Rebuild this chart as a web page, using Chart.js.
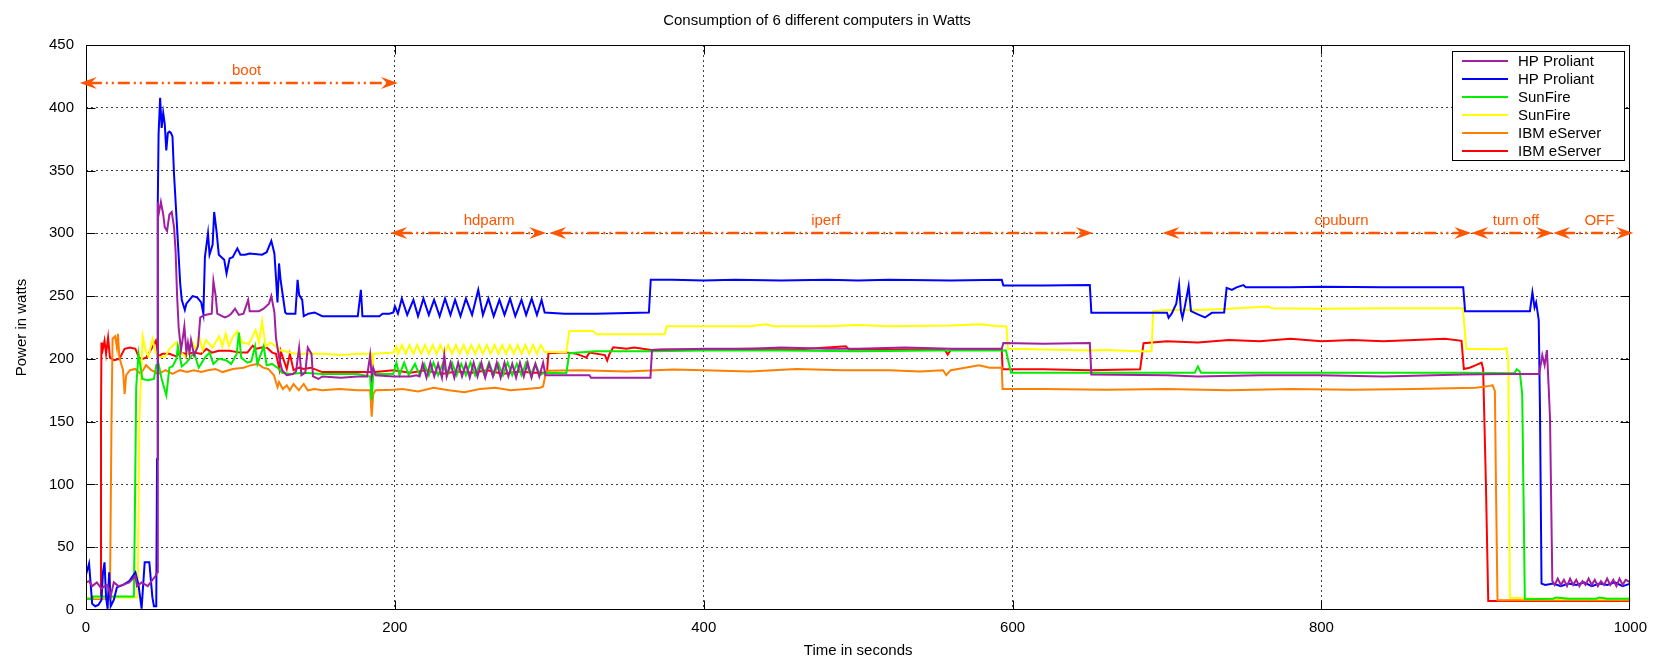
<!DOCTYPE html>
<html>
<head>
<meta charset="utf-8">
<script src="https://cdn.jsdelivr.net/npm/chart.js@4"></script>
<style>
  html, body { margin: 0; padding: 0; background: #fff; }
</style>
</head>
<body>
<canvas id="power-chart" width="1656" height="660"></canvas>
<script>
// power readings, [seconds, watts]
const hpProliantA = [
  [0,22],[2,23],[4,19],[7,22],[10,17],[12,19],[14,20],[16,11],[18,22],[21,19],[24,20],[28,22],[32,27],[33,19],[36,22],[40,19],[43,24],[45,27],[46,30],
  [46.5,325],[47,315],[48.5,325],[50,315],[51,305],[52.5,302],[54,315],[55.5,317],[57,305],[58,286],[59,250],[60,225],[61.5,207],[62.5,215],[63.7,226],[65,205],[66,213],[67,205],[68,215],[70,203],[72.5,210],[74,233],[77,235],[81.4,236],[82.5,262],[84,250],[85,236],[89.8,233],[92,234],[94,236],[96.5,240],[99,235],[102,236],[105,247],[106,238],[112,238],[115,240],[118.5,244],[120,250],[122,237],[123,217],[125,201],[127,191],[130,187],[134,188],[136,190],[138,209],[139.5,187],[142,189],[143.6,209],[146,204],[147,186],[150.5,184],[153,186],[165,185],[176,186],[182,186],[184,203],[185,186],[186,193],[187.5,187],[199,186],[210,186],[214,187],
  [216,186],[218,196],[220.5,185],[223,197],[225.5,186],[228,196],[230.5,185],[232,203],[233.5,186],[236,197],[238.5,185],[241,197],[243.5,186],[246,196],[248.5,185],[251,197],[253.5,186],[256,197],[258.5,185],[261,196],[263.5,186],[266,197],[268.5,185],[271,197],[273.5,186],[276,196],[278.5,185],[281,197],[283.5,186],[286,197],[288.5,185],[291,196],[293.5,186],[296,197],[297.5,187],
  [310,187],[326,187],[327,185],[365.5,185],[366.5,207],[400,208],[430,208],[450,209],[480,208],[500,208],[530,209],[560,208],[593,208],[594,212.6],[620,212],[650,212.6],[651,187.6],[700,187],[720,186],[760,187],[800,187],[840,186],[892,187.6],[920,188],[941,188],[943,203],[944.5,195],[946,207],[947,181],[948,153],[949.5,23],
  [951,20],[953,25],[955,20],[957,24],[959,19],[961,25],[963,20],[965,24],[967,19],[969,23],[971,20],[973,25],[975,20],[977,24],[979,19],[981,23],[983,20],[985,25],[987,20],[989,24],[991,19],[993,25],[995,20],[997,24],[1000,22]
];
const hpProliantB = [
  [0,28],[2,37],[4,5],[6,3],[8,4],[10,8],[11,30],[12,38],[13,10],[14,1],[15,30],[16,3],[18,8],[20,18],[24,20],[28,23],[32,30],[34,20],[36,1],[38,38],[41,38],[43,10],[44,3],[45.5,3],
  [46,120],[46.5,326],[47,379],[48,408],[49,384],[50,396],[51,387],[52,366],[53,380],[54,381],[55,380],[56,377],[57,347],[58.5,315],[61,260],[62,247],[64,239],[65,244],[69,250],[72,249],[74.6,245],[76,236],[77,281],[79,300],[80,283],[82,291],[83,317],[84.5,302],[86,283],[89.5,279],[91,268],[93,280],[95,281],[98,288],[100,283],[103,283],[106,284],[114,283],[117,285],[120,294],[122,284],[123,265],[124,245],[125,276],[126,263],[127.5,250],[129,237],[130,236],[135.6,236],[137,263],[138,251],[140,247],[141,234],[144,236],[148,237],[153,234],[176,234],[178,255],[179,234],[190,234],[192,236],[196.5,236],[199,237],[200,242],
  [202,236],[204.5,248],[208,235],[212,247],[215,234],[218.5,248],[222,235],[225.4,247],[229,234],[232.5,248],[236,235],[239,247],[242.5,234],[246,248],[250,235],[254,255],[257,235],[260.6,248],[264,234],[267.7,247],[271,235],[274.6,248],[278,234],[282,247],[285,235],[288.6,248],[292,235],[295,247],[297,237],
  [310,236],[330,236],[364.5,237],[365.7,263],[380,263],[400,262.5],[420,263],[450,262.5],[480,263],[500,262.5],[520,263],[560,262.5],[593,263],[594,258.5],[620,258.5],[650,258.8],[651,236.7],[700,236.7],[701,232.7],[703,236],[706,244],[707.8,259],[709,238],[710,232.7],[711.6,242],[714,258],[715.5,238],[720,235.4],[724.6,233],[729,236.7],[737,237],[738.6,256.6],[742,255],[745,257],[749.4,258.8],[751,257],[780,257],[800,257.5],[840,257],[891.8,257],[893,238],[920,238],[935,238],[936.6,253],[938,241],[939,245],[940.7,231],[941.5,160],[942.5,21],
  [945,20],[950,21],[955,19],[960,21],[965,20],[970,22],[975,19],[980,21],[985,20],[990,22],[995,19],[1000,21]
];
const sunFireA = [
  [0,9],[4,9],[4.5,10.8],[31,10.8],[31.5,60],[32.5,177],[34,204],[36.5,184],[40,183],[44,184],[45.5,195],[47,196],[49,184],[52,171],[54,193],[56,194],[58.5,200],[59.5,210],[62,194],[65,197],[70,205],[73,193],[77,201],[80,205],[82.5,196],[86,200],[90.7,199],[94,196],[97.6,204],[99,221],[100.5,201],[104.5,197],[107,198],[109.5,210],[111,196],[115,210],[117,195],[120.5,196],[124,193],[127,189],[132,188],[141,189],[153,188],[176,188],[184,186],[185,167],[186,188],[199,188],
  [201,197],[203,187],[206,197],[209,187],[213,196],[216,187],[219,196],[222,187],[225,197],[228,187],[231,196],[234,187],[237,197],[240,187],[243,196],[246,187],[249,197],[252,187],[255,196],[258,187],[261,197],[264,187],[267,196],[270,187],[273,197],[276,187],[279,196],[282,187],[285,197],[288,187],[291,196],[294,187],[297,189],
  [311,188.5],[313,204.5],[330,206],[366,206],[400,206.6],[450,206.6],[500,206],[550,206.6],[595.7,206.6],[599,189],[650,189],[700,189],[718,189],[720,194],[722,189],[760,189],[800,189],[850,189],[892,189],[925,188.5],[926.5,191.7],[928.4,190],[930,172],[931.7,8.5],[950,9],[952,10],[960,9],[978,9],[980,10],[985,9],[1000,9]
];
const sunFireB = [
  [0,10],[33.5,10],[34.5,150],[36.7,218],[38.8,206],[40.5,202],[43.1,216],[45,205],[47.4,201],[51.5,202],[54,208],[58.2,213],[60.3,207],[64.7,201],[69,213],[71,207],[73.3,218],[75.5,207],[77.6,215],[81.9,209],[86.2,218],[88.3,210],[90.5,220],[92.6,210],[94.8,217],[98,222],[101.2,213],[105.5,212],[109.8,223],[112,213],[114,230],[116.3,210],[119.5,213],[122.8,210],[125,207],[130.4,205.7],[135.8,204],[153,204],[166,203],[176,204],[185,204],[185.4,180],[186,204],[199,205],[201,210],
  [202,204],[204.5,211],[207,204],[209.5,211],[212,204],[214.5,211],[217,204],[219.5,211],[222,204],[224.5,211],[227,204],[229.5,211],[232,204],[234.5,211],[237,204],[239.5,211],[242,204],[244.5,211],[247,204],[249.5,211],[252,204],[254.5,211],[257,204],[259.5,211],[262,204],[264.5,211],[267,204],[269.5,211],[272,204],[274.5,211],[277,204],[279.5,211],[282,204],[284.5,211],[287,204],[289.5,211],[292,204],[294.5,211],[297,205.5],
  [311,205.5],[313,222.3],[328.4,222.3],[330.6,219.6],[374.8,219.6],[376,226],[400,226],[430,226],[440,227.5],[445,226],[480,226],[500,227],[520,226],[560,226.5],[580,227.5],[590,226],[596,226],[597,208],[620,207.5],[650,206.6],[660,207],[681.5,206],[690,206],[691,238],[700,239],[720,239],[740,240],[765.5,241.7],[768,240.4],[800,240],[840,240.4],[880,240.4],[891.6,240.4],[893.8,208],[915.5,207.7],[919.8,208.5],[921,198],[922,9.8],[940,9],[1000,9]
];
const ibmServerA = [
  [0,9],[15.5,9],[16.5,150],[17.2,216],[18.9,218],[20,209],[20.7,220],[21.6,201],[24,191],[25,172],[26,187],[28.5,191],[32,192],[35.4,188],[38.9,195],[42.3,191],[47,188],[51.5,191],[56,188],[60.8,191],[65.4,189.5],[70,191],[74.6,189.5],[79,191],[83.8,192],[88.4,189.5],[95,192],[102,193],[106.8,195],[111.3,196],[114.7,193],[118,192],[121.7,187],[124,177.6],[125,181.5],[127.5,176],[130,179],[132,175],[134.4,180],[137.8,175],[141,180],[143.6,175],[148,176],[153,175],[164,176],[176,175],[184,175],[185,154],[186,172],[187.5,175],[199,175.5],
  [205,176],[215,174],[225,177],[235,175],[245,173.5],[255,176],[265,177],[275,175],[285,176],[294,177],[296,178],[298,190.5],
  [320,191],[350,190],[380,191.5],[400,191],[430,190],[460,192],[490,191],[520,191],[540,190],[555,191],[557,187],[560,191],[578.4,195],[585,193],[593,193],[593.5,176],[620,176],[660,175.5],[700,176],[740,175],[780,176],[820,175.5],[860,176],[900,177],[909,178.5],[910.8,179],[912.3,174.5],[913,100],[914,7.7],[1000,7.7]
];
const ibmServerB = [
  [0,9],[9.3,9],[9.7,150],[10,213],[10.3,204],[12,214.5],[13,204],[14.3,217],[15.5,201],[18.2,199],[21.6,200],[25,208],[28.5,209],[32,208],[34.3,201],[36.6,200],[39,201],[42.4,208],[45.2,214.5],[47,202],[49.4,204],[54,204],[58.5,202],[60.8,205],[65.4,204],[70,205],[74.6,204],[78,208],[81.5,205],[86,206.5],[93,206.5],[99.8,205],[104.5,205],[108,210.5],[110,208],[113.8,209],[117,209],[120.6,205],[123,204],[125.2,192],[126,206.5],[127.5,201],[130,192],[132,204],[134.4,191],[138,193],[141,192],[145.6,193],[153,189.5],[164,189.5],[176,189.5],[187,189.5],[199,191],
  [210,189],[220,191],[230,188],[240,190],[250,189],[260,191],[270,188],[280,190],[290,189],[298.5,189],[299.4,204.4],
  [310,205.3],[317.7,204],[324,201],[326,205],[336,203],[337.5,198.7],[339,204],[341.4,209.3],[350,208],[355,209],[366,207],[372,207.5],[400,207.5],[430,208],[460,207.5],[492,210],[494,207.5],[530,207.5],[556,207.5],[558,203.5],[560,207.5],[593,207.5],[593.5,191.8],[620,191.8],[650,191],[682.6,191.8],[684.8,212.5],[700,214],[720,213],[740,215],[760,214],[780,216],[800,214],[820,215],[840,214],[860,215],[880,216],[890.7,214.4],[892.2,192],[896,193],[900,195],[903.7,197],[904.7,192],[906.5,100],[908,7.2],[1000,7.2]
];

const seriesNames = ['HP Proliant', 'HP Proliant', 'SunFire', 'SunFire', 'IBM eServer', 'IBM eServer'];
const seriesData = [hpProliantA, hpProliantB, sunFireA, sunFireB, ibmServerA, ibmServerB];
const seriesColors = ['#a020a0', '#0000ff', '#00ee00', '#ffff00', '#ff8000', '#ff0000'];

// test phases drawn as arrows above the curves
const phaseNames = ['boot', 'hdparm', 'iperf', 'cpuburn', 'turn off', 'OFF'];
const phaseStart = [-4, 197, 300, 697, 897, 950];
const phaseEnd = [202, 298, 652, 897, 950, 1002];
const phaseLevel = [420, 300, 300, 300, 300, 300];
const phaseLabelAt = [104, 261, 479, 813, 926, 980];

const xTicks = [0, 200, 400, 600, 800, 1000];
const yTicks = [0, 50, 100, 150, 200, 250, 300, 350, 400, 450];

const FONT = "'Liberation Sans', Arial, sans-serif";
const ARROW_COLOR = '#ff5500';
Chart.defaults.font.family = FONT;
Chart.defaults.color = '#000';

function arrowHead(ctx, tipX, y, dir) {
  // dir = -1 points left, 1 points right
  ctx.beginPath();
  ctx.moveTo(tipX, y);
  ctx.lineTo(tipX - dir * 17, y - 6);
  ctx.lineTo(tipX - dir * 11, y);
  ctx.lineTo(tipX - dir * 17, y + 6);
  ctx.closePath();
  ctx.fill();
}

const gnuplotBits = {
  id: 'gnuplotBits',
  afterDatasetsDraw(chart) {
    const {ctx, chartArea: a, scales: {x, y}} = chart;
    ctx.save();

    // frame with inward tick marks
    ctx.strokeStyle = '#000';
    ctx.lineWidth = 1;
    ctx.setLineDash([]);
    const L = Math.round(a.left) + 0.5, R = Math.round(a.right) - 0.5;
    const T = Math.round(a.top) + 0.5, B = Math.round(a.bottom) - 0.5;
    ctx.strokeRect(L, T, R - L, B - T);
    ctx.beginPath();
    xTicks.slice(1, -1).forEach(v => {
      const px = Math.round(x.getPixelForValue(v)) + 0.5;
      ctx.moveTo(px, B); ctx.lineTo(px, B - 9);
      ctx.moveTo(px, T); ctx.lineTo(px, T + 9);
    });
    yTicks.slice(1, -1).forEach(v => {
      const py = Math.round(y.getPixelForValue(v)) + 0.5;
      ctx.moveTo(L, py); ctx.lineTo(L + 9, py);
      ctx.moveTo(R, py); ctx.lineTo(R - 9, py);
    });
    ctx.stroke();

    // phase arrows
    ctx.strokeStyle = ARROW_COLOR;
    ctx.fillStyle = ARROW_COLOR;
    ctx.lineWidth = 2.5;
    ctx.font = '15px ' + FONT;
    ctx.textAlign = 'center';
    ctx.textBaseline = 'middle';
    phaseNames.forEach((name, i) => {
      const x1 = x.getPixelForValue(phaseStart[i]);
      const x2 = x.getPixelForValue(phaseEnd[i]);
      const py = Math.round(y.getPixelForValue(phaseLevel[i]));
      ctx.setLineDash([12, 4, 2, 4, 2, 4]);
      ctx.beginPath();
      ctx.moveTo(x1 + 10, py);
      ctx.lineTo(x2 - 10, py);
      ctx.stroke();
      ctx.setLineDash([]);
      arrowHead(ctx, x1, py, -1);
      arrowHead(ctx, x2, py, 1);
      ctx.fillText(name, x.getPixelForValue(phaseLabelAt[i]), py - 12);
    });

    // legend box, top right inside the plot
    const boxL = 1452, boxT = 51, boxW = 172, rowH = 18;
    ctx.fillStyle = '#fff';
    ctx.fillRect(boxL, boxT, boxW, rowH * seriesNames.length + 1);
    ctx.strokeStyle = '#000';
    ctx.lineWidth = 1;
    ctx.strokeRect(boxL + 0.5, boxT + 0.5, boxW, rowH * seriesNames.length + 1);
    ctx.textAlign = 'left';
    ctx.font = '15px ' + FONT;
    chart.data.datasets.forEach((ds, i) => {
      const ry = boxT + 10 + i * rowH;
      ctx.strokeStyle = ds.borderColor;
      ctx.lineWidth = 2;
      ctx.beginPath();
      ctx.moveTo(boxL + 10, ry);
      ctx.lineTo(boxL + 56, ry);
      ctx.stroke();
      ctx.fillStyle = '#000';
      ctx.fillText(ds.label, boxL + 66, ry + 1);
    });
    ctx.restore();
  }
};

new Chart(document.getElementById('power-chart'), {
  type: 'line',
  data: {
    datasets: seriesNames.map((name, i) => ({
      label: name,
      data: seriesData[i].map(([t, w]) => ({x: t, y: w})),
      borderColor: seriesColors[i],
      backgroundColor: seriesColors[i],
      borderWidth: 2,
      pointRadius: 0,
      tension: 0,
      fill: false
    }))
  },
  options: {
    responsive: false,
    animation: false,
    layout: {padding: {left: 0, right: 22, top: 0, bottom: 0}},
    plugins: {
      legend: {display: false},
      tooltip: {enabled: false},
      title: {
        display: true,
        text: 'Consumption of 6 different computers in Watts',
        color: '#000',
        font: {size: 15, weight: 'normal'},
        padding: {top: 12, bottom: 15}
      }
    },
    scales: {
      x: {
        type: 'linear',
        min: 0,
        max: 1000,
        afterBuildTicks: scale => { scale.ticks = xTicks.map(v => ({value: v})); },
        afterFit: scale => { scale.height = 50; },
        ticks: {font: {size: 15}, color: '#000', padding: 9, maxRotation: 0, callback: v => String(v)},
        grid: {
          drawTicks: false,
          color: c => (c.tick && (c.tick.value === 0 || c.tick.value === 1000)) ? 'rgba(0,0,0,0)' : 'rgba(0,0,0,0.75)'
        },
        border: {display: false, dash: [2, 3]},
        title: {display: true, text: 'Time in seconds', font: {size: 15}, color: '#000', padding: {top: 0, bottom: 0}}
      },
      y: {
        min: 0,
        max: 450,
        afterBuildTicks: scale => { scale.ticks = yTicks.map(v => ({value: v})); },
        afterFit: scale => { scale.width = 86; },
        ticks: {font: {size: 15}, color: '#000', padding: 12, callback: v => String(v)},
        grid: {
          drawTicks: false,
          color: c => (c.tick && (c.tick.value === 0 || c.tick.value === 450)) ? 'rgba(0,0,0,0)' : 'rgba(0,0,0,0.75)'
        },
        border: {display: false, dash: [2, 3]},
        title: {display: true, text: 'Power in watts', font: {size: 15}, color: '#000', padding: {top: 13, bottom: 0}}
      }
    }
  },
  plugins: [gnuplotBits]
});
</script>
</body>
</html>
